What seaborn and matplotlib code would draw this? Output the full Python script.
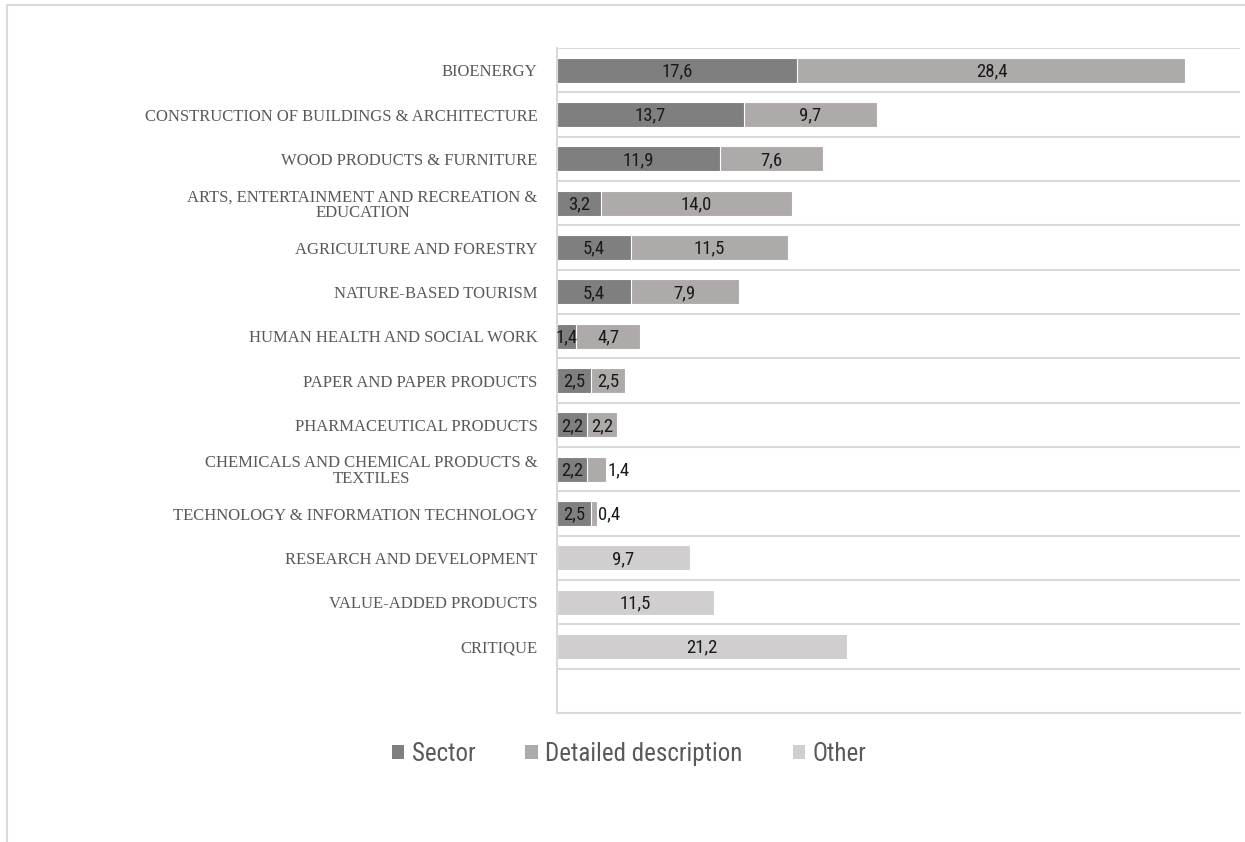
import matplotlib
matplotlib.use("Agg")
import matplotlib.pyplot as plt
import seaborn as sns
import pandas as pd
import numpy as np
from matplotlib.patches import Rectangle, Patch
from matplotlib import font_manager

categories = [
    "BIOENERGY",
    "CONSTRUCTION OF BUILDINGS & ARCHITECTURE",
    "WOOD PRODUCTS & FURNITURE",
    "ARTS, ENTERTAINMENT AND RECREATION &\nEDUCATION",
    "AGRICULTURE AND FORESTRY",
    "NATURE-BASED TOURISM",
    "HUMAN HEALTH AND SOCIAL WORK",
    "PAPER AND PAPER PRODUCTS",
    "PHARMACEUTICAL PRODUCTS",
    "CHEMICALS AND CHEMICAL PRODUCTS &\nTEXTILES",
    "TECHNOLOGY & INFORMATION TECHNOLOGY",
    "RESEARCH AND DEVELOPMENT",
    "VALUE-ADDED PRODUCTS",
    "CRITIQUE",
]
sector = [17.6, 13.7, 11.9, 3.2, 5.4, 5.4, 1.4, 2.5, 2.2, 2.2, 2.5, 0, 0, 0]
detailed = [28.4, 9.7, 7.6, 14.0, 11.5, 7.9, 4.7, 2.5, 2.2, 1.4, 0.4, 0, 0, 0]
other = [0, 0, 0, 0, 0, 0, 0, 0, 0, 0, 0, 9.7, 11.5, 21.2]
series_names = ["Sector", "Detailed description", "Other"]
colors = ["#7f7f7f", "#aeaaaa", "#d0cece"]

sns.set_theme(style="white")
names = {f.name for f in font_manager.fontManager.ttflist}
narrow = "Roboto Condensed" if "Roboto Condensed" in names else "Roboto"
plt.rcParams["font.family"] = ["DejaVu Sans"]

df = pd.DataFrame({"cat": categories, "s": sector, "d": detailed, "o": other})
df["sd"] = df["s"] + df["d"]
df["sdo"] = df["sd"] + df["o"]

fig = plt.figure(figsize=(12.45, 8.42), dpi=100)
ax = fig.add_axes([557 / 1245, 1 - 713 / 842, 1 - 557 / 1245 - 5 / 1245, (713 - 48) / 842])

for col, c in zip(["sdo", "sd", "s"], [colors[2], colors[1], colors[0]]):
    sns.barplot(data=df, y="cat", x=col, order=categories, color=c, orient="h",
                width=0.56, ax=ax, edgecolor="white", linewidth=0.8, saturation=1)

ax.set_xlim(0, 50)
ax.set_ylim(14.5, -0.5)
ax.set_xlabel("")
ax.set_ylabel("")
ax.set_xticks([])
for k in range(15):
    ax.axhline(k - 0.5, color="#d9d9d9", lw=1.5, zorder=0)
for sp in ["top", "right"]:
    ax.spines[sp].set_visible(False)
ax.spines["left"].set_color("#d9d9d9")
ax.spines["bottom"].set_color("#d9d9d9")
ax.spines["left"].set_linewidth(1.5)
ax.spines["bottom"].set_linewidth(1.5)

ax.set_yticks(range(len(categories)))
ax.set_yticklabels(categories, family=["Liberation Serif", "DejaVu Serif"],
                   fontsize=12, color="#595959")
for lbl in ax.get_yticklabels():
    lbl.set_horizontalalignment("right")
    lbl.set_multialignment("center")
    lbl.set_linespacing(1.0)
ax.tick_params(axis="y", length=0, pad=14)

def fmt(v):
    return f"{v:.1f}".replace(".", ",")

for i in range(len(categories)):
    left = 0
    for j, v in enumerate([sector[i], detailed[i], other[i]]):
        if v > 0:
            if j > 0 and v < 1.5 and left > 0:
                ax.text(left + v + 0.1, i + 0.03, fmt(v), ha="left", va="center",
                        fontsize=13.5, family=[narrow, "DejaVu Sans"], color="#1a1a1a")
            else:
                ax.text(left + v / 2, i + 0.03, fmt(v), ha="center", va="center",
                        fontsize=13.5, family=[narrow, "DejaVu Sans"], color="#1a1a1a")
        left += v

handles = [Patch(facecolor=c, edgecolor="none") for c in colors]
fig.legend(handles, series_names, loc="center", bbox_to_anchor=(629 / 1245, 1 - 754 / 842),
           ncol=3, frameon=False, handlelength=0.5, handleheight=0.5, handletextpad=0.3,
           columnspacing=2.0, prop={"family": [narrow, "DejaVu Sans"], "size": 18},
           labelcolor="#595959")

fig.add_artist(Rectangle((7 / 1245, -0.1), 1.2, 1 - 5 / 842 + 0.1, transform=fig.transFigure,
                         fill=False, edgecolor="#d9d9d9", lw=1.5))

fig.savefig("out.png", dpi=100)
